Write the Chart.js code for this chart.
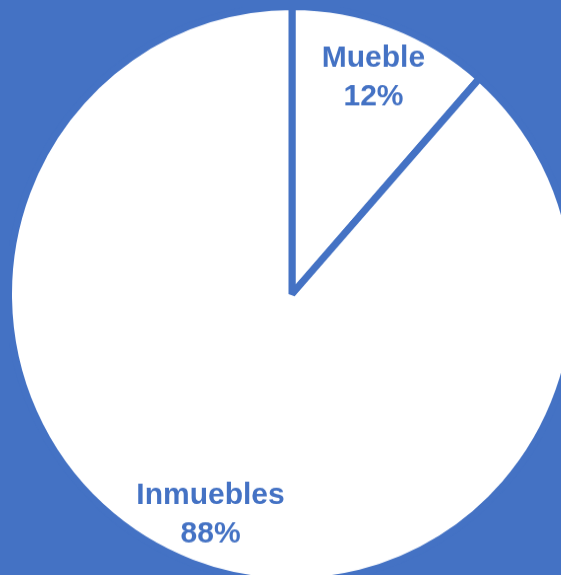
<!DOCTYPE html>
<html>
<head>
<meta charset="utf-8">
<script src="https://cdn.jsdelivr.net/npm/chart.js@4/dist/chart.umd.min.js"></script>
<style>
  html, body { margin: 0; padding: 0; width: 561px; height: 575px; overflow: hidden; background: #4472C4; }
  #wrap { position: absolute; left: 9px; top: 11px; width: 566px; height: 566px;
          transform-origin: 283px 283px; transform: scaleY(1.0143); }
</style>
</head>
<body>
<div id="wrap"><canvas id="c" width="566" height="566"></canvas></div>
<script>
const categories = ["Mueble", "Inmuebles"];
const values = [11.5, 88.5];
const valueLabels = ["12%", "88%"];

const BLUE = "#4472C4";

const labelPlugin = {
  id: "sliceLabels",
  afterDatasetsDraw(chart) {
    const ctx = chart.ctx;
    const meta = chart.getDatasetMeta(0);
    ctx.save();
    ctx.fillStyle = BLUE;
    ctx.font = "bold 30px 'Liberation Sans', Arial, sans-serif";
    ctx.textAlign = "center";
    ctx.textBaseline = "alphabetic";
    meta.data.forEach((arc, i) => {
      const p = arc.getProps(["x", "y", "startAngle", "endAngle", "outerRadius"], true);
      const mid = (p.startAngle + p.endAngle) / 2;
      const r = p.outerRadius * 0.813;
      const cx = p.x + Math.cos(mid) * r;
      const cy = p.y + Math.sin(mid) * r;
      ctx.fillText(categories[i], cx, cy - 8.5);
      ctx.fillText(valueLabels[i], cx, cy + 29.5);
    });
    ctx.restore();
  }
};

new Chart(document.getElementById("c"), {
  type: "pie",
  data: {
    labels: categories,
    datasets: [{
      data: values,
      backgroundColor: ["#FFFFFF", "#FFFFFF"],
      borderColor: BLUE,
      borderWidth: 7,
      hoverOffset: 0
    }]
  },
  options: {
    responsive: false,
    devicePixelRatio: 1,
    animation: false,
    radius: 283.5,
    layout: { padding: 0 },
    plugins: {
      legend: { display: false },
      tooltip: { enabled: false },
      title: { display: false }
    },
    events: []
  },
  plugins: [labelPlugin]
});
</script>
</body>
</html>
